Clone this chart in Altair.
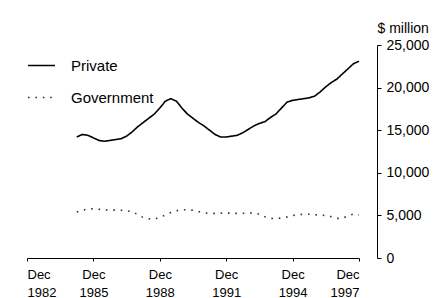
import altair as alt
import pandas as pd

# Quarterly trend series (end-of-quarter), Mar 1985 .. Dec 1997, $ million
years = list(range(1985, 1998))
months = [3, 6, 9, 12]
quarters = [f"{y}-{m:02d}-15T00:00:00" for y in years for m in months]

private = [
    14200, 14500, 14400, 14100,
    13800, 13700, 13800, 13900,
    14000, 14300, 14800, 15400,
    15900, 16400, 16900, 17600,
    18400, 18700, 18400, 17600,
    16900, 16400, 15900, 15500,
    15000, 14500, 14200, 14200,
    14300, 14400, 14700, 15100,
    15500, 15800, 16000, 16500,
    16900, 17600, 18300, 18500,
    18600, 18700, 18800, 19000,
    19500, 20100, 20600, 21000,
    21600, 22200, 22800, 23100,
]

government = [
    5400, 5600, 5750, 5780,
    5720, 5650, 5630, 5620,
    5600, 5550, 5450, 5100,
    4750, 4600, 4580, 4750,
    5050, 5350, 5550, 5670,
    5650, 5600, 5450, 5300,
    5240, 5240, 5260, 5280,
    5250, 5240, 5240, 5280,
    5300, 5150, 4850, 4650,
    4620, 4700, 4820, 4980,
    5100, 5130, 5130, 5080,
    5030, 5000, 4850, 4650,
    4650, 4950, 5150, 5050,
]

series_names = ["Private", "Government"]
tick_years = [1982, 1985, 1988, 1991, 1994, 1997]
y_ticks = [0, 5000, 10000, 15000, 20000, 25000]

df = pd.concat([
    pd.DataFrame({"date": quarters, "value": private, "series": "Private"}),
    pd.DataFrame({"date": quarters, "value": government, "series": "Government"}),
])

x_ticks = [alt.DateTime(year=y, month=12, date=15) for y in tick_years]

legend_kw = dict(
    title=None,
    orient="none",
    legendX=0,
    legendY=6,
    symbolType="stroke",
    symbolSize=729,
    symbolStrokeWidth=1.5,
    labelOffset=15,
    rowPadding=9,
    labelFont="Liberation Sans",
    labelFontSize=15,
    labelColor="#000",
)

chart = alt.Chart(df).mark_line(strokeWidth=1.6).encode(
    x=alt.X(
        "date:T",
        scale=alt.Scale(domain=[alt.DateTime(year=1982, month=12, date=15),
                                alt.DateTime(year=1997, month=12, date=15)]),
        axis=alt.Axis(
            values=x_ticks,
            labelExpr="['Dec', timeFormat(datum.value, '%Y')]",
            title=None,
            grid=False,
            tickSize=3,
            labelPadding=7,
            labelLineHeight=18,
            labelFont="Liberation Sans",
            labelFontSize=13,
            labelColor="#000",
            domainColor="#000",
            tickColor="#000",
            labelAngle=0,
        ),
    ),
    y=alt.Y(
        "value:Q",
        scale=alt.Scale(domain=[0, 25000], nice=False),
        axis=alt.Axis(
            orient="right",
            values=y_ticks,
            labelExpr="format(datum.value, ',.0f')",
            offset=18,
            grid=False,
            tickSize=4,
            labelPadding=5,
            labelFont="Liberation Sans",
            labelFontSize=14,
            labelColor="#000",
            domainColor="#000",
            tickColor="#000",
            title="$ million",
            titleAngle=0,
            titleAlign="left",
            titleBaseline="alphabetic",
            titleX=0,
            titleY=-13,
            titleFont="Liberation Sans",
            titleFontSize=14,
            titleFontWeight="normal",
            titleColor="#000",
        ),
    ),
    color=alt.Color(
        "series:N",
        scale=alt.Scale(domain=series_names, range=["#000000", "#333333"]),
        legend=alt.Legend(**legend_kw),
    ),
    strokeDash=alt.StrokeDash(
        "series:N",
        scale=alt.Scale(domain=series_names, range=[[1, 0], [1.6, 5.8]]),
        legend=alt.Legend(**legend_kw),
    ),
).properties(
    width=332,
    height=213,
    padding={"left": 19, "top": 37, "right": 71, "bottom": 40},
    autosize=alt.AutoSizeParams(type="none"),
    title=alt.TitleParams(
        text="Trend",
        anchor="middle",
        frame="group",
        dx=50,
        offset=26,
        font="Liberation Sans",
        fontSize=15,
        fontWeight="bold",
        color="#000",
    ),
).configure(
    background="white",
    view=alt.ViewConfig(stroke=None),
)

chart.save("out.html", embed_options={"renderer": "svg", "actions": False})
